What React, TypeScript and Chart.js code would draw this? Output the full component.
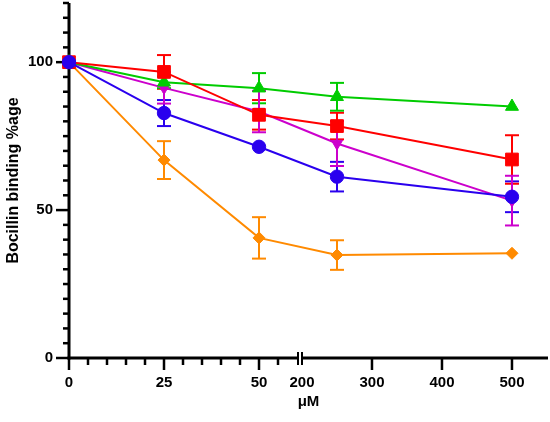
import { useEffect, useRef } from "react";
import { Chart, registerables, LinearScale } from "chart.js";

// concentrations (µM) and Bocillin binding (% of control) per series
const doses = [0, 25, 50, 250, 500];

const blueValues = [100, 82.8, 71.4, 61.3, 54.5];
const blueErrors = [0, 4.4, 0, 5, 5.2];
const redValues = [100, 96.7, 82.2, 78.4, 67.1];
const redErrors = [0, 5.7, 5, 4.5, 8.2];
const greenValues = [100, 93.2, 91.2, 88.3, 85.0];
const greenErrors = [0, 2, 5.1, 4.7, 0];
const magentaValues = [100, 91.3, 83.3, 72.5, 53.2];
const magentaErrors = [0, 5.3, 7, 7.6, 8.4];
const orangeValues = [100, 66.9, 40.6, 34.8, 35.4];
const orangeErrors = [0, 6.4, 7, 5, 0];

const xTickValues = [0, 5, 10, 15, 20, 25, 30, 35, 40, 45, 50, 55, 200, 300, 400, 500];
const xLabelValues = [0, 25, 50, 200, 300, 400, 500];
const xMajorTicks = [0, 25, 50, 300, 400, 500];
const yTickValues = [0, 5, 10, 15, 20, 25, 30, 35, 40, 45, 50, 55, 60, 65, 70, 75, 80, 85, 90, 95, 100, 105, 110, 115, 120];
const yLabelValues = [0, 50, 100];

// axis break: 0..60 at full scale, then 200..550 compressed
const BREAK_LOW = 60;
const BREAK_HIGH = 200;
const BREAK_GAP = 1.31;
const HIGH_RATIO = 0.1842;
const X_VIRTUAL_MAX = 126.05;

class BrokenLinearScale extends LinearScale {
  static id = "brokenLinear";
  static defaults = LinearScale.defaults;

  toVirtual(value: number) {
    if (value <= BREAK_LOW) return value;
    return BREAK_LOW + BREAK_GAP + (value - BREAK_HIGH) * HIGH_RATIO;
  }

  getPixelForValue(value: number) {
    return super.getPixelForValue(this.toVirtual(value));
  }
}

Chart.register(...registerables, BrokenLinearScale);

const FONT = "'Liberation Sans', Arial, sans-serif";

const axesPlugin = {
  id: "brokenAxes",
  beforeDatasetsDraw(chart: any) {
    const { ctx, chartArea, scales } = chart;
    const x = scales.x;
    const y = scales.y;
    const { left, right, top, bottom } = chartArea;
    const line = (x1: number, y1: number, x2: number, y2: number) => {
      ctx.beginPath();
      ctx.moveTo(x1, y1);
      ctx.lineTo(x2, y2);
      ctx.stroke();
    };
    ctx.save();
    ctx.strokeStyle = "#000";
    ctx.lineWidth = 3;
    line(left, top, left, bottom + 1.5);

    const breakA = x.getPixelForValue(BREAK_LOW) + 1;
    const breakB = x.getPixelForValue(BREAK_HIGH);
    line(left - 1.5, bottom, breakA, bottom);
    line(breakB, bottom, right, bottom);
    ctx.lineWidth = 2;
    line(breakA, bottom - 6, breakA, bottom + 7);
    line(breakB, bottom - 6, breakB, bottom + 7);

    ctx.lineWidth = 2.5;
    yTickValues.forEach((v) => {
      const py = y.getPixelForValue(v);
      const len = yLabelValues.includes(v) ? 13 : 6;
      line(left - len, py, left, py);
    });
    xTickValues.forEach((v) => {
      if (v === BREAK_HIGH) return;
      const px = x.getPixelForValue(v);
      const len = xMajorTicks.includes(v) ? 12 : 7;
      line(px, bottom, px, bottom + len);
    });

    // error bars
    ctx.lineWidth = 2;
    chart.data.datasets.forEach((ds: any) => {
      ctx.strokeStyle = ds.borderColor;
      ds.data.forEach((pt: any, i: number) => {
        const e = ds.errors[i];
        if (!e) return;
        const px = x.getPixelForValue(pt.x);
        const hi = y.getPixelForValue(pt.y + e);
        const lo = y.getPixelForValue(pt.y - e);
        line(px, hi, px, lo);
        line(px - 7, hi, px + 7, hi);
        line(px - 7, lo, px + 7, lo);
      });
    });
    ctx.restore();
  },
};

function series(values: number[], errors: number[], color: string, pointStyle: string, radius: number, rotation = 0) {
  return {
    data: doses.map((d, i) => ({ x: d, y: values[i] })),
    errors,
    borderColor: color,
    backgroundColor: color,
    borderWidth: 2,
    pointStyle,
    pointRadius: radius,
    pointRotation: rotation,
    pointBorderWidth: 1,
    clip: false as const,
  };
}

export default function App() {
  const canvasRef = useRef<HTMLCanvasElement>(null);
  const chartRef = useRef<Chart | null>(null);

  useEffect(() => {
    document.body.style.margin = "0";
    if (!canvasRef.current) return;
    if (chartRef.current) chartRef.current.destroy();

    const font = { family: FONT, size: 15, weight: "bold" as const };

    chartRef.current = new Chart(canvasRef.current, {
      type: "line",
      data: {
        datasets: [
          series(blueValues, blueErrors, "#2a00ee", "circle", 6.7),
          series(redValues, redErrors, "#ff0000", "rect", 9),
          series(greenValues, greenErrors, "#00cc00", "triangle", 7.5),
          series(magentaValues, magentaErrors, "#cc00cc", "triangle", 6.5, 180),
          series(orangeValues, orangeErrors, "#ff8a00", "rectRot", 6),
        ] as any,
      },
      options: {
        animation: false,
        responsive: true,
        maintainAspectRatio: false,
        layout: { autoPadding: false, padding: { top: 3, right: 2, left: 0, bottom: 0 } },
        plugins: { legend: { display: false }, tooltip: { enabled: false } },
        scales: {
          x: {
            type: "brokenLinear" as any,
            bounds: "data",
            afterDataLimits: (s: any) => {
              s.min = 0;
              s.max = X_VIRTUAL_MAX;
            },
            afterBuildTicks: (s: any) => {
              s.ticks = xTickValues.map((value) => ({ value }));
            },
            afterFit: (s: any) => {
              s.height = 64;
              s.paddingLeft = 0;
              s.paddingRight = 0;
            },
            grid: { display: false, drawTicks: false },
            border: { display: false },
            ticks: {
              autoSkip: false,
              maxRotation: 0,
              padding: 16,
              color: "#000",
              font,
              callback: (v: any) => (xLabelValues.includes(v) ? String(v) : ""),
            },
            title: {
              display: true,
              text: "μM",
              color: "#000",
              font,
              padding: { top: 0, bottom: 11 },
            },
          } as any,
          y: {
            min: 0,
            max: 120,
            bounds: "data",
            afterBuildTicks: (s: any) => {
              s.ticks = yTickValues.map((value) => ({ value }));
            },
            afterFit: (s: any) => {
              s.width = 69;
              s.paddingTop = 0;
              s.paddingBottom = 0;
            },
            grid: { display: false, drawTicks: false },
            border: { display: false },
            ticks: {
              autoSkip: false,
              padding: 16,
              color: "#000",
              font,
              callback: (v: any) => (yLabelValues.includes(v) ? String(v) : ""),
            },
            title: {
              display: true,
              text: "Bocillin binding %age",
              color: "#000",
              font: { ...font, size: 16 },
              padding: { top: 4, bottom: 0 },
            },
          },
        },
      },
      plugins: [axesPlugin],
    });

    return () => {
      if (chartRef.current) {
        chartRef.current.destroy();
        chartRef.current = null;
      }
    };
  }, []);

  return (
    <div style={{ width: 550, height: 422, position: "relative" }}>
      <canvas ref={canvasRef} />
    </div>
  );
}
